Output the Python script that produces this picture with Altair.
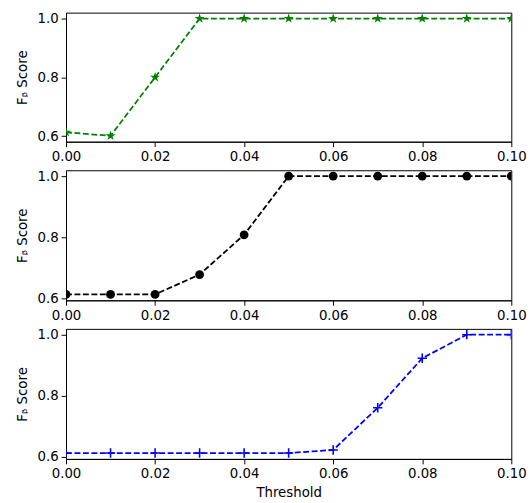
import altair as alt
import pandas as pd

thresholds = [0.00, 0.01, 0.02, 0.03, 0.04, 0.05, 0.06, 0.07, 0.08, 0.09, 0.10]
score_star = [0.613, 0.601, 0.800, 1.0, 1.0, 1.0, 1.0, 1.0, 1.0, 1.0, 1.0]
score_circle = [0.613, 0.613, 0.613, 0.678, 0.808, 1.0, 1.0, 1.0, 1.0, 1.0, 1.0]
score_plus = [0.613, 0.613, 0.613, 0.613, 0.613, 0.613, 0.623, 0.761, 0.923, 1.0, 1.0]

x_ticks = [0.0, 0.02, 0.04, 0.06, 0.08, 0.10]
y_ticks = [0.6, 0.8, 1.0]

STAR = ("M0,-1L0.225,-0.309L0.951,-0.309L0.363,0.118L0.588,0.809L0,0.382"
        "L-0.588,0.809L-0.363,0.118L-0.951,-0.309L-0.225,-0.309Z")
PLUS = "M-1,0L1,0M0,-1L0,1"

W = 452


def panel(values, color, shape, size, filled, ydom, h, xtitle):
    df = pd.DataFrame({"t": thresholds, "s": values})
    x = alt.X("t:Q", scale=alt.Scale(domain=[0, 0.1], nice=False),
              axis=alt.Axis(values=x_ticks, format=".2f", title=xtitle))
    y = alt.Y("s:Q", scale=alt.Scale(domain=ydom, nice=False, zero=False),
              axis=alt.Axis(values=y_ticks, format=".1f", title="F\u1d66 Score"))
    base = alt.Chart(df).encode(x=x, y=y)
    line = base.mark_line(color=color, strokeWidth=1.8, strokeDash=[6, 2.6], clip=True)
    if filled:
        pts = base.mark_point(shape=shape, size=size, filled=True, color=color,
                              opacity=1, clip=True)
    else:
        pts = base.mark_point(shape=shape, size=size, filled=False, color=color,
                              strokeWidth=1.6, opacity=1, clip=True)
    return (line + pts).properties(width=W, height=h)


p1 = panel(score_star, "#008000", STAR, 115, True, [0.581, 1.02], 131, None)
p2 = panel(score_circle, "#000000", "circle", 80, True, [0.5937, 1.019], 132, None)
p3 = panel(score_plus, "#0000ff", PLUS, 90, False, [0.5937, 1.019], 132, "Threshold")

chart = alt.vconcat(p1, p2, p3, spacing=5).properties(
    padding={"left": 15, "top": 7, "right": 5, "bottom": 5}
).configure_view(stroke="black", strokeWidth=1).configure_axis(
    grid=False,
    domainColor="black",
    domainWidth=1,
    tickColor="black",
    tickSize=5,
    tickWidth=1,
    labelFont="DejaVu Sans",
    labelFontSize=13.5,
    labelColor="black",
    labelPadding=3,
    titleFont="DejaVu Sans",
    titleFontSize=13.5,
    titleFontWeight="normal",
    titleColor="black",
    titlePadding=8,
    labelFlush=False,
).configure_axisX(titlePadding=6)

chart.save("out.html", embed_options={"renderer": "svg", "actions": False})
